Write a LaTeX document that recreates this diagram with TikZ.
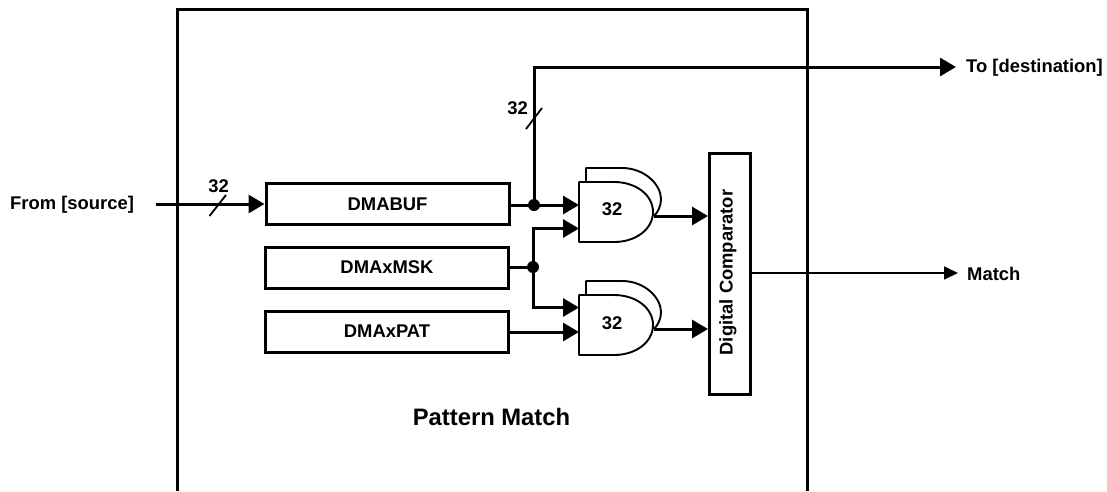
\documentclass[tikz,border=0pt]{standalone}
\usepackage{fontspec}
\setmainfont{Liberation Sans}
\usetikzlibrary{arrows.meta}
\tikzset{
  wire/.style={line width=3pt,-{Triangle[length=16pt,width=18pt]},shorten >=0pt},
  plain/.style={line width=3pt},
  thinwire/.style={line width=1.6pt,-{Triangle[length=14pt,width=13pt]}},
  regbox/.style={draw,line width=3pt,minimum width=243pt,minimum height=41pt,inner sep=0pt,font=\bfseries\fontsize{18.4}{20}\selectfont},
  cmpbox/.style={draw,line width=3pt,minimum width=41pt,minimum height=241pt,inner sep=0pt},
  lbl/.style={font=\bfseries\fontsize{18.4}{20}\selectfont,inner sep=0pt},
  gateline/.style={line width=1.9pt,line join=round},
  dot/.style={circle,fill=black,inner sep=0pt,minimum size=12pt},
  slash/.style={line width=1.8pt}
}
\begin{document}
\begin{tikzpicture}[x=1pt,y=-1pt]
\useasboundingbox (0,0) rectangle (1107,491);
% frame
\draw[line width=3pt] (177,491) -- (177,9) -- (807,9) -- (807,491);
% registers
\node[regbox] (buf) at (387.5,204) {DMABUF};
\node[regbox] (msk) at (387,267.5) {DMAxMSK};
\node[regbox] (pat) at (387,331.5) {DMAxPAT};
\node[cmpbox] (cmp) at (730,273.5) {};
\node[lbl,rotate=90] (cmptext) at (728,272.5) {Digital Comparator};
% gates
\foreach \g/\y in {ga/182,gb/295}{
  \draw[gateline,fill=white] (586,\y) -- (586,\y-14) -- (622,\y-14)
     .. controls (645,\y-14) and (661,\y+3) .. (661,\y+17)
     .. controls (661,\y+24) and (658,\y+30) .. (654,\y+34);
  \draw[gateline,fill=white] (579,\y) -- (614,\y)
     .. controls (636,\y) and (653,\y+13) .. (653,\y+30)
     .. controls (653,\y+47) and (636,\y+60) .. (614,\y+60)
     -- (579,\y+60) -- cycle;
}
\node[lbl] (ga) at (612,209) {32};
\node[lbl] (gb) at (612,323) {32};
% anchors for connectors
\coordinate (gaA) at (579,205);
\coordinate (gaB) at (579,228.5);
\coordinate (gaO) at (654,216);
\coordinate (gbA) at (579,307.5);
\coordinate (gbB) at (579,332);
\coordinate (gbO) at (654,329);
\node[dot] (d1) at (534,205) {};
\node[dot] (d2) at (533,267) {};
\coordinate (src) at (156,204);
\coordinate (dst) at (956,67);
\coordinate (mat) at (958,273);
\coordinate (cmpA) at (708,216);
\coordinate (cmpB) at (708,329);
% connectors
\draw[wire] (src) -- (buf.west);
\draw[plain] (buf.east |- d1) -- (d1.center);
\draw[wire] (d1.center) -- (gaA);
\draw[wire] (d1.center) |- (dst);
\draw[plain] (msk.east |- d2) -- (d2.center);
\draw[wire] (d2.center) |- (gaB);
\draw[wire] (d2.center) |- (gbA);
\draw[wire] (pat.east |- gbB) -- (gbB);
\draw[wire] (gaO) -- (cmpA);
\draw[wire] (gbO) -- (cmpB);
\draw[thinwire] (cmp.east |- mat) -- (mat);
% bus slashes
\coordinate (s1a) at (209.5,216);
\coordinate (s1b) at (226,195);
\coordinate (s2a) at (526,129);
\coordinate (s2b) at (542,108);
\draw[slash] (s1a) -- (s1b);
\draw[slash] (s2a) -- (s2b);
% labels
\node[lbl] (n1) at (218.5,186) {32};
\node[lbl] (n2) at (517.5,108) {32};
\node[lbl,anchor=west] (from) at (10,204.5) {From [source]};
\node[lbl,anchor=west] (to) at (966,67.5) {To [destination]};
\node[lbl,anchor=west] (match) at (967,274) {Match};
\node[font=\bfseries\fontsize{23.8}{26}\selectfont,inner sep=0pt] (title) at (491.5,417) {Pattern Match};
\end{tikzpicture}
\end{document}
